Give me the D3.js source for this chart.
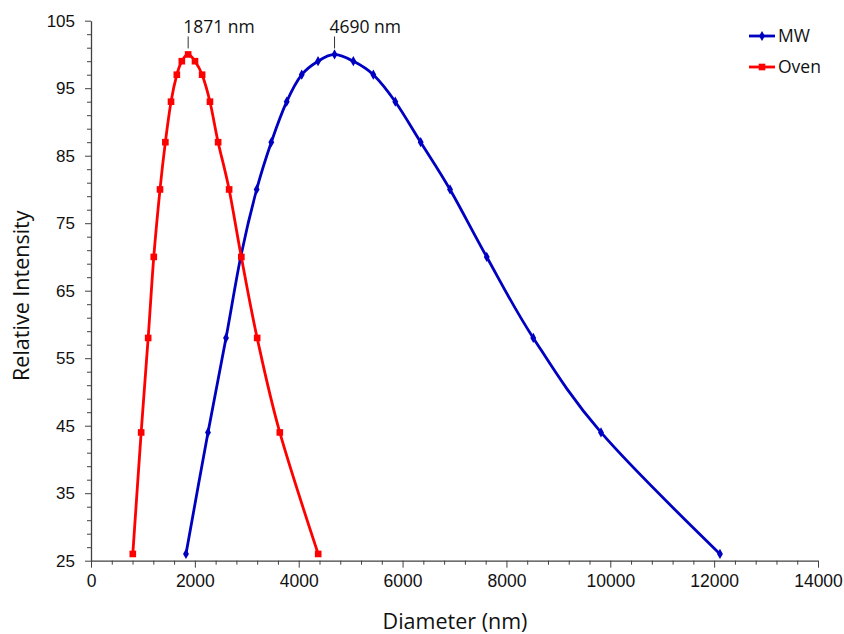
<!DOCTYPE html>
<html>
<head>
<meta charset="utf-8">
<script src="https://cdn.jsdelivr.net/npm/d3@7"></script>
<style>
  html, body { margin: 0; padding: 0; background: #fff; }
  svg { display: block; font-family: "Open Sans", "Noto Sans", sans-serif; }
</style>
</head>
<body>
<svg id="chart" width="844" height="634"></svg>
<script>
// ---- data ----
const intensity = [26, 44, 58, 70, 80, 87, 93, 97, 99, 100, 99, 97, 93, 87, 80, 70, 58, 44, 26];
const ovenDiameter = [805, 966, 1101, 1209, 1329, 1432, 1541, 1653, 1749, 1871, 2003, 2140, 2291, 2448, 2660, 2895, 3200, 3636, 4375];
const mwDiameter = [1829, 2253, 2600, 2883, 3190, 3472, 3769, 4058, 4372, 4690, 5052, 5437, 5860, 6349, 6914, 7621, 8517, 9821, 12112];
const seriesNames = ["MW", "Oven"];
const xTicks = [0, 2000, 4000, 6000, 8000, 10000, 12000, 14000];
const yTicks = [25, 35, 45, 55, 65, 75, 85, 95, 105];
const peakLabels = [
  { x: 1871, y: 100, text: "1871 nm" },
  { x: 4690, y: 100, text: "4690 nm" }
];

const colors = { MW: "#0000C0", Oven: "#FF0000" };

(function () {
const svg = d3.select("#chart");
const pl = 91, pr = 818, pt = 20.7, pb = 560.7;

const x = d3.scaleLinear().domain([0, 14000]).range([pl, pr]);
const y = d3.scaleLinear().domain([25, 105]).range([pb, pt]);

const axisColor = "#404040";

// minor ticks
const xMinor = d3.range(0, 14001, 400).filter(v => v % 2000 !== 0);
const yMinor = d3.range(25, 106, 2).filter(v => (v - 25) % 10 !== 0);

const gx = svg.append("g").attr("transform", `translate(0,${pb})`);
gx.call(d3.axisBottom(x).tickValues(xMinor).tickSize(4).tickFormat(""));
gx.selectAll(".tick line").attr("stroke", axisColor);
gx.select(".domain").remove();
const gx2 = svg.append("g").attr("transform", `translate(0,${pb})`);
gx2.call(d3.axisBottom(x).tickValues(xTicks).tickSize(7).tickSizeOuter(0).tickPadding(7).tickFormat(d3.format("d")));
gx2.selectAll(".domain").attr("stroke", axisColor).attr("stroke-width", 1.3);
gx2.selectAll(".tick line").attr("stroke", axisColor);
gx2.selectAll(".tick text").attr("font-size", 17.5).attr("fill", "#111");

const gy = svg.append("g").attr("transform", `translate(${pl},0)`);
gy.call(d3.axisLeft(y).tickValues(yMinor).tickSize(4).tickFormat(""));
gy.selectAll(".tick line").attr("stroke", axisColor);
gy.select(".domain").remove();
const gy2 = svg.append("g").attr("transform", `translate(${pl},0)`);
gy2.call(d3.axisLeft(y).tickValues(yTicks).tickSize(6).tickSizeOuter(0).tickPadding(10));
gy2.selectAll(".domain").attr("stroke", axisColor).attr("stroke-width", 1.3);
gy2.selectAll(".tick line").attr("stroke", axisColor);
gy2.selectAll(".tick text").attr("font-size", 17).attr("fill", "#111");

// axis titles
svg.append("text").attr("x", 455).attr("y", 629)
  .attr("text-anchor", "middle").attr("font-size", 21.5).attr("fill", "#111")
  .text("Diameter (nm)");
svg.append("text").attr("transform", `translate(29,${(pt + pb) / 2 + 5}) rotate(-90)`)
  .attr("text-anchor", "middle").attr("font-size", 21.5).attr("fill", "#111")
  .text("Relative Intensity");

// series
const series = [
  { name: "MW", xs: mwDiameter, ys: intensity },
  { name: "Oven", xs: ovenDiameter, ys: intensity }
];

const line = d3.line().x(d => x(d[0])).y(d => y(d[1])).curve(d3.curveCatmullRom.alpha(0));

series.forEach(s => {
  const pts = s.xs.map((v, i) => [v, s.ys[i]]);
  svg.append("path").datum(pts)
    .attr("d", line).attr("fill", "none")
    .attr("stroke", colors[s.name]).attr("stroke-width", 2.8);
  const sym = s.name === "MW" ? d3.symbolDiamond : d3.symbolSquare;
  const size = s.name === "MW" ? 30 : 44;
  svg.append("g").selectAll("path").data(pts).join("path")
    .attr("transform", d => `translate(${x(d[0])},${y(d[1])})`)
    .attr("d", d3.symbol().type(sym).size(size))
    .attr("fill", colors[s.name]);
});

// peak labels
peakLabels.forEach(p => {
  const px = x(p.x), py = y(p.y);
  svg.append("line").attr("x1", px).attr("x2", px).attr("y1", py - 18).attr("y2", py - 6)
    .attr("stroke", "#333").attr("stroke-width", 1);
  svg.append("text").attr("x", px - 5).attr("y", py - 21)
    .attr("font-size", 17.5).attr("fill", "#111").text(p.text);
});

// legend
const legend = svg.append("g");
seriesNames.forEach((name, i) => {
  const ly = 36 + i * 31;
  legend.append("line").attr("x1", 749).attr("x2", 775).attr("y1", ly).attr("y2", ly)
    .attr("stroke", colors[name]).attr("stroke-width", 2.8);
  legend.append("path").attr("transform", `translate(762,${ly})`)
    .attr("d", d3.symbol().type(name === "MW" ? d3.symbolDiamond : d3.symbolSquare).size(name === "MW" ? 30 : 44))
    .attr("fill", colors[name]);
  legend.append("text").attr("x", 778).attr("y", ly + 6).attr("font-size", 17.5).attr("fill", "#111").text(name);
});
})();
</script>
</body>
</html>
